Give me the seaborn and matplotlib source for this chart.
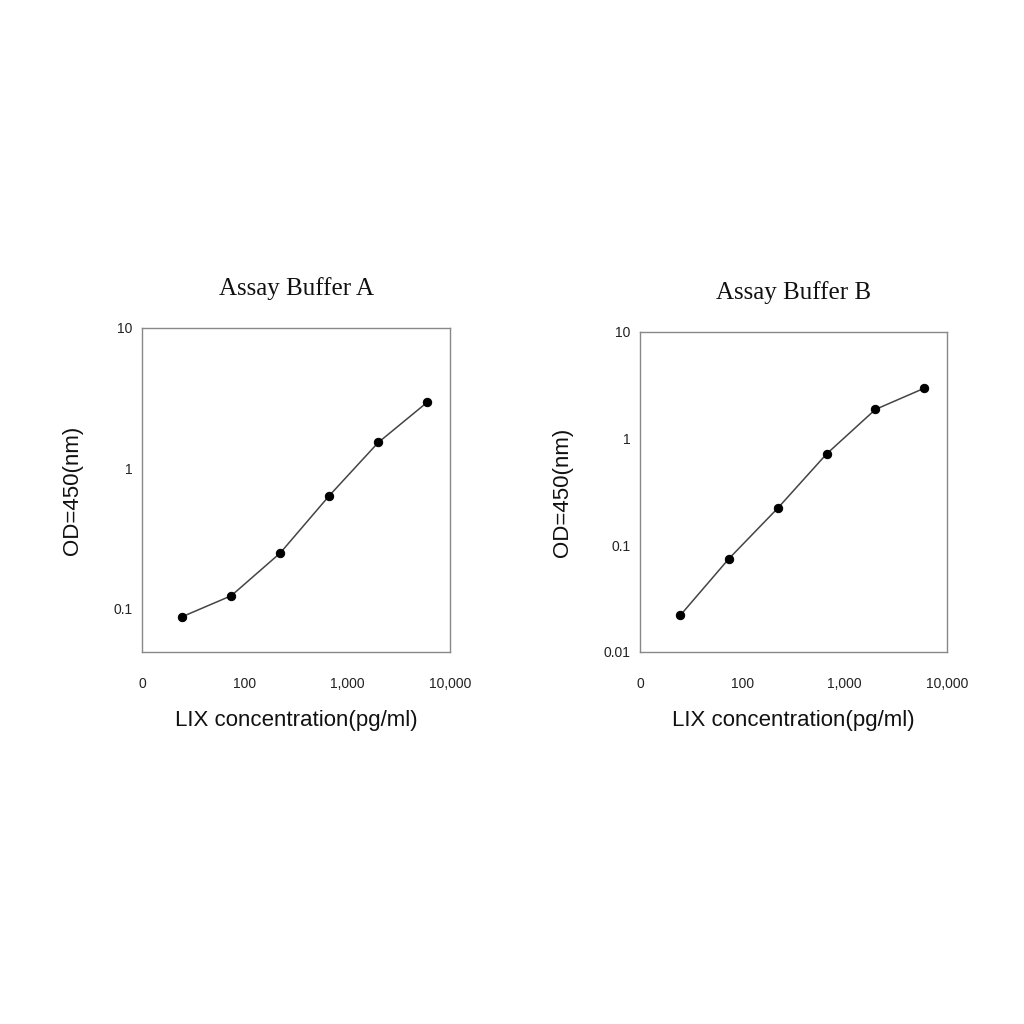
import pandas as pd
import matplotlib
matplotlib.use('Agg')
import matplotlib.pyplot as plt
import seaborn as sns

# Standard curve data
conc = [24.7, 74, 222, 667, 2000, 6000]
od_buffer_a = [0.088, 0.124, 0.25, 0.64, 1.53, 2.96]
od_buffer_b = [0.022, 0.075, 0.223, 0.72, 1.88, 2.97]

x_ticks = [10, 100, 1000, 10000]
x_tick_labels = ['0', '100', '1,000', '10,000']
titles = ['Assay Buffer A', 'Assay Buffer B']

sns.set_style('white')
plt.rcParams['font.family'] = ['Liberation Sans', 'DejaVu Sans']

fig = plt.figure(figsize=(10.24, 10.24), dpi=100)
ax_a = fig.add_axes([0.1387, 0.3633, 0.3008, 0.3164])
ax_b = fig.add_axes([0.625, 0.3633, 0.2998, 0.3125])

panels = [
    (ax_a, od_buffer_a, (0.0493, 10), [0.1, 1, 10], ['0.1', '1', '10']),
    (ax_b, od_buffer_b, (0.01, 10), [0.01, 0.1, 1, 10], ['0.01', '0.1', '1', '10']),
]

for (ax, od, ylim, yt, ytl), title in zip(panels, titles):
    df = pd.DataFrame({'conc': conc, 'od': od})
    sns.lineplot(data=df, x='conc', y='od', ax=ax, color='#444444', linewidth=1.1,
                 marker='o', markersize=6, markerfacecolor='black', markeredgecolor='black')
    ax.set_xscale('log')
    ax.set_yscale('log')
    ax.set_xlim(10, 10000)
    ax.set_ylim(*ylim)
    ax.set_xticks(x_ticks)
    ax.set_xticklabels(x_tick_labels)
    ax.set_yticks(yt)
    ax.set_yticklabels(ytl)
    ax.minorticks_off()
    ax.tick_params(axis='x', direction='out', length=3, width=0.8, color='#777777',
                   labelsize=10, pad=15, labelcolor='#222222')
    ax.tick_params(axis='y', direction='out', length=3, width=0.8, color='#777777',
                   labelsize=10, pad=4, labelcolor='#222222')
    for s in ax.spines.values():
        s.set_color('#888888')
        s.set_linewidth(1.0)
    ax.set_xlabel('LIX concentration(pg/ml)', fontsize=16, labelpad=14, color='#111111')
    ax.set_ylabel('OD=450(nm)', fontsize=16, labelpad=22, color='#111111')
    ax.set_title(title, fontsize=18, family=['Liberation Serif', 'DejaVu Serif'],
                 pad=24, color='#111111')

fig.savefig('out.png', dpi=100, facecolor='white')
